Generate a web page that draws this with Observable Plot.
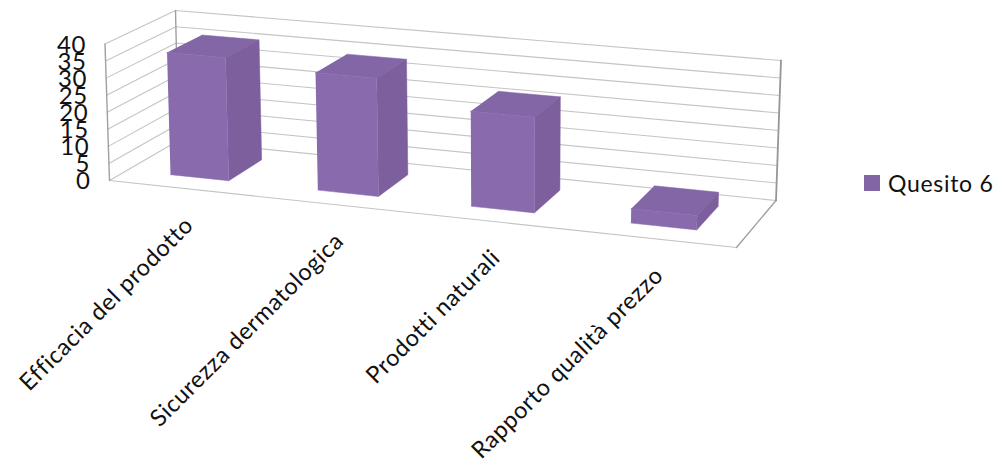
<!DOCTYPE html>
<html>
<head>
<meta charset="utf-8">
<script src="https://cdn.jsdelivr.net/npm/d3@7"></script>
<script src="https://cdn.jsdelivr.net/npm/@observablehq/plot@0.6"></script>
<style>
  html, body { margin: 0; padding: 0; background: #fff; }
  #chart { position: relative; width: 998px; height: 461px; overflow: hidden; }
  #legend { position: absolute; left: 864px; top: 169px; display: flex; align-items: center;
            font: 23px Lato, sans-serif; letter-spacing: 0.7px; color: #111; }
  #legend i { width: 16px; height: 16px; margin-right: 8px; background: #8165a5; display: block; }
</style>
</head>
<body>
<div id="chart">
  <div id="legend"><i></i><span id="legend-name"></span></div>
</div>
<script>
const categories = ["Efficacia del prodotto", "Sicurezza dermatologica", "Prodotti naturali", "Rapporto qualità prezzo"];
const values = [36, 34, 27, 4];
const valueTicks = [0, 5, 10, 15, 20, 25, 30, 35, 40];
const seriesName = "Quesito 6";
const valueMax = 40;

// Screen position of the 3D box corners: front-left, front-right, back-right, back-left.
const floorQuad = [[109, 180], [736, 247], [775.5, 200], [178, 140]];
const ceilingQuad = [[104.5, 43.5], [741.5, 100], [780.5, 60], [175, 10]];

// Homography taking the unit square (u across, v into depth) onto a quad.
function homography([[x0, y0], [x1, y1], [x2, y2], [x3, y3]]) {
  const dx1 = x1 - x2, dx2 = x3 - x2, sx = x0 - x1 + x2 - x3;
  const dy1 = y1 - y2, dy2 = y3 - y2, sy = y0 - y1 + y2 - y3;
  const det = dx1 * dy2 - dx2 * dy1;
  const g = (sx * dy2 - dx2 * sy) / det;
  const h = (dx1 * sy - sx * dy1) / det;
  const a = x1 - x0 + g * x1, b = x3 - x0 + h * x3;
  const d = y1 - y0 + g * y1, e = y3 - y0 + h * y3;
  return (u, v) => {
    const w = g * u + h * v + 1;
    return [(a * u + b * v + x0) / w, (d * u + e * v + y0) / w];
  };
}
const onFloor = homography(floorQuad);
const onCeiling = homography(ceilingQuad);

// (u, v, value) in the chart box to screen coordinates.
function project(u, v, value) {
  const t = value / valueMax;
  const [fx, fy] = onFloor(u, v);
  const [cx, cy] = onCeiling(u, v);
  return {px: fx + (cx - fx) * t, py: fy + (cy - fy) * t};
}

const path = (id, corners) => corners.map(([u, v, val]) => ({id, ...project(u, v, val)}));

// Gridlines run along the left wall to the back corner and across the back wall.
const grid = valueTicks.flatMap((t) =>
  path(`g${t}`, [[0, 0, t], [0, 1, t], [1, 1, t]])
);
const lightEdges = path("front", [[0, 0, 0], [1, 0, 0]]);
const darkEdges = [
  ...path("frontLeft", [[0, 0, 0], [0, 0, valueMax]]),
  ...path("backLeft", [[0, 1, 0], [0, 1, valueMax]]),
  ...path("floorRight", [[1, 0, 0], [1, 1, 0]])
];
const rightEdge = path("backRight", [[1, 1, 0], [1, 1, valueMax]]);

// Columns: 40% of each category slot wide, the middle half of the depth.
const barShare = 0.4, vFront = 0.25, vBack = 0.76;
const slot = 1 / categories.length;
const faces = (kind) => values.flatMap((val, i) => {
  const u0 = (i + 0.5 - barShare / 2) * slot, u1 = (i + 0.5 + barShare / 2) * slot;
  const id = `${kind}${i}`;
  if (kind === "front") return path(id, [[u0, vFront, 0], [u1, vFront, 0], [u1, vFront, val], [u0, vFront, val]]);
  if (kind === "side") return path(id, [[u1, vFront, 0], [u1, vBack, 0], [u1, vBack, val], [u1, vFront, val]]);
  return path(id, [[u0, vFront, val], [u1, vFront, val], [u1, vBack, val], [u0, vBack, val]]);
});

const tickLabels = valueTicks.map((t) => ({label: String(t), ...project(0, 0, t)}));
const categoryLabels = categories.map((label, i) => ({label, ...project((i + 0.5) * slot, 0, 0)}));

const face = (kind, color) => Plot.line(faces(kind), {
  x: "px", y: "py", z: "id", fill: color, stroke: color, strokeWidth: 0.5
});

const plot = Plot.plot({
  width: 998, height: 461,
  margin: 0,
  x: {type: "linear", domain: [0, 998], range: [0, 998], axis: null},
  y: {type: "linear", domain: [0, 461], range: [0, 461], axis: null},
  style: {background: "transparent", letterSpacing: "0.6px"},
  marks: [
    Plot.line(grid, {x: "px", y: "py", z: "id", stroke: "#c4c4c4", strokeWidth: 1.1}),
    Plot.line(lightEdges, {x: "px", y: "py", z: "id", stroke: "#c4c4c4", strokeWidth: 1.1}),
    Plot.line(darkEdges, {x: "px", y: "py", z: "id", stroke: "#a0a0a0", strokeWidth: 1.4}),
    Plot.line(rightEdge, {x: "px", y: "py", z: "id", stroke: "#969696", strokeWidth: 1.8}),
    face("top", "#8266a5"),
    face("side", "#7c5f9c"),
    face("front", "#896bad"),
    Plot.text(tickLabels, {
      x: "px", y: "py", text: "label", textAnchor: "end", dx: -19, dy: 1,
      fontSize: 24, fontFamily: "Lato, sans-serif", fill: "#111"
    }),
    Plot.text(categoryLabels, {
      x: "px", y: "py", text: "label", textAnchor: "end", rotate: -45, dx: 7, dy: 33,
      fontSize: 23.5, fontFamily: "Lato, sans-serif", fill: "#111"
    })
  ]
});
document.getElementById("chart").prepend(plot);
document.getElementById("legend-name").textContent = seriesName;
</script>
</body>
</html>
